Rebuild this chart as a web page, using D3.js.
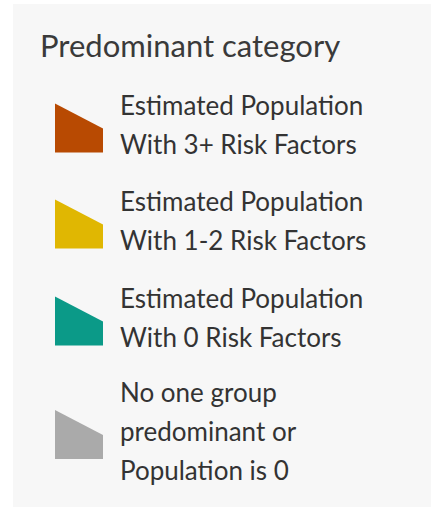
<!DOCTYPE html>
<html>
<head>
<meta charset="utf-8">
<script src="https://cdn.jsdelivr.net/npm/d3@7"></script>
<style>
  body { margin: 0; background: #fff; }
  svg { display: block; font-family: Lato, "Open Sans", sans-serif; }
</style>
</head>
<body>
<svg></svg>
<script>
var title = "Predominant category";
var categories = [
    ["Estimated Population", "With 3+ Risk Factors"],
    ["Estimated Population", "With 1-2 Risk Factors"],
    ["Estimated Population", "With 0 Risk Factors"],
    ["No one group", "predominant or", "Population is 0"]
];
var colors = ["#b84a02", "#e0b702", "#0b9a88", "#aaaaaa"];

var svgWidth = 431;
var svgHeight = 509;
var svg = d3.select("svg")
    .attr("width", svgWidth)
    .attr("height", svgHeight);

// panel
svg.append("rect")
    .attr("x", 13).attr("y", 4)
    .attr("width", svgWidth - 13).attr("height", svgHeight - 6)
    .attr("fill", "#f7f7f7");

svg.append("text")
    .text(title)
    .attr("x", 40).attr("y", 57)
    .attr("font-size", 31)
    .attr("fill", "#3a3a3a");

var lineHeight = 39;
// first baseline of each entry
var baselines = [115, 211, 308, 402];

var entry = svg.selectAll("g.entry")
    .data(categories)
    .enter().append("g")
    .attr("class", "entry")
    .attr("transform", function (d, i) { return "translate(0," + baselines[i] + ")"; });

// swatch: sloped top polygon
entry.append("path")
    .attr("d", function (d) {
        var cy = (d.length - 1) * lineHeight / 2 - 6;
        var x0 = 55, x1 = 103;
        return "M" + x0 + "," + (cy - 25) + "L" + x1 + "," + (cy) +
            "L" + x1 + "," + (cy + 24) + "L" + x0 + "," + (cy + 24) + "Z";
    })
    .attr("fill", function (d, i) { return colors[i]; });

entry.selectAll("text")
    .data(function (d) { return d; })
    .enter().append("text")
    .text(function (d) { return d; })
    .attr("x", 120)
    .attr("y", function (d, i) { return i * lineHeight; })
    .attr("font-size", 26)
    .attr("fill", "#333");
</script>
</body>
</html>
